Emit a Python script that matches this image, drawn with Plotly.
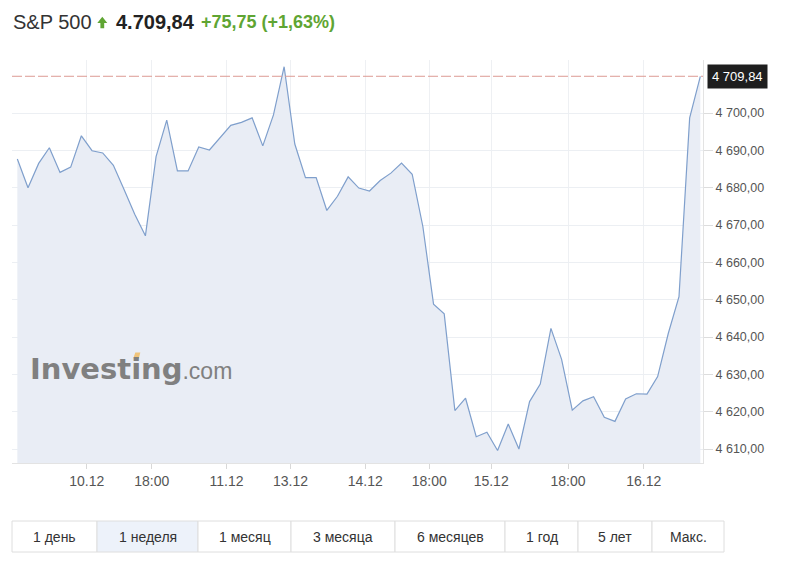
import plotly.graph_objects as go

# ---- data ----
prices = [4687.7, 4680.0, 4686.5, 4690.7, 4684.1, 4685.5, 4693.9, 4689.9, 4689.3, 4686.0,
          4679.5, 4672.9, 4667.1, 4688.3, 4698.1, 4684.5, 4684.5, 4690.9, 4690.1, 4693.5,
          4696.7, 4697.5, 4698.7, 4691.2, 4699.5, 4712.4, 4691.7, 4682.7, 4682.7, 4673.9,
          4677.7, 4682.9, 4679.9, 4679.1, 4681.9, 4683.9, 4686.6, 4683.6, 4669.6, 4648.8,
          4646.2, 4620.3, 4623.6, 4613.3, 4614.5, 4609.6, 4616.7, 4610.0, 4622.7, 4627.4,
          4642.3, 4634.0, 4620.4, 4622.9, 4624.0, 4618.5, 4617.4, 4623.4, 4624.8, 4624.7,
          4629.4, 4641.0, 4650.8, 4698.7, 4709.84]
steps = list(range(len(prices)))
x_tick_vals = [6.5, 12.6, 19.6, 25.6, 32.6, 38.6, 44.4, 51.6, 58.7]
x_tick_text = ["10.12", "18:00", "11.12", "13.12", "14.12", "18:00", "15.12", "18:00", "16.12"]
y_tick_vals = [4610, 4620, 4630, 4640, 4650, 4660, 4670, 4680, 4690, 4700]
y_tick_text = ["4 610,00", "4 620,00", "4 630,00", "4 640,00", "4 650,00",
               "4 660,00", "4 670,00", "4 680,00", "4 690,00", "4 700,00"]
last_price = 4709.84
last_label = "4 709,84"
title_name = "S&P 500"
title_price = "4.709,84"
title_change = "+75,75 (+1,63%)"
buttons = ["1 день", "1 неделя", "1 месяц", "3 месяца", "6 месяцев", "1 год", "5 лет", "Макс."]
active_button = "1 неделя"

# ---- layout geometry (reference pixels) ----
OFF = 8  # page body margin
W, H = 789 - OFF, 564 - OFF
L, R, T, B = 12, 703, 60, 463
btn_edges = [12, 97, 198, 291, 395, 505, 578, 652, 724]
btn_top, btn_bot = 521, 552


def xp(px):
    return (px - L) / (R - L)


def yp(py):
    return (B - py) / (B - T)


FONT = "Liberation Sans, Arial, sans-serif"

fig = go.Figure()
fig.add_trace(go.Scatter(
    x=steps, y=prices, mode="lines",
    line=dict(color="#7f9fcc", width=1.2),
    fill="tozeroy", fillcolor="#e9edf5",
    hoverinfo="skip", showlegend=False,
))

shapes = []
shapes.append(dict(type="line", xref="paper", yref="y", x0=0, x1=1,
                   y0=last_price, y1=last_price,
                   line=dict(color="#dc9a93", width=1, dash="10px,3px")))
ax0, ax1 = 97.3, 107.3
path = (f"M {xp(ax0)},{yp(23)} L {xp((ax0+ax1)/2)},{yp(16.8)} L {xp(ax1)},{yp(23)} "
        f"L {xp(104.2)},{yp(23)} L {xp(104.2)},{yp(28.3)} L {xp(100.4)},{yp(28.3)} "
        f"L {xp(100.4)},{yp(23)} Z")
shapes.append(dict(type="path", xref="paper", yref="paper", path=path,
                   fillcolor="#5fa533", line=dict(width=0)))
for i, name in enumerate(buttons):
    shapes.append(dict(type="rect", xref="paper", yref="paper",
                       x0=xp(btn_edges[i]), x1=xp(btn_edges[i+1]),
                       y0=yp(btn_bot), y1=yp(btn_top),
                       fillcolor="#edf2fa" if name == active_button else "white",
                       line=dict(color="#dedede", width=1)))

annotations = []
annotations.append(dict(xref="paper", yref="paper", x=xp(11), y=yp(22), xanchor="left", yanchor="middle",
                        text=title_name, showarrow=False,
                        font=dict(family=FONT, size=20, color="#333333")))
annotations.append(dict(xref="paper", yref="paper", x=xp(114), y=yp(22), xanchor="left", yanchor="middle",
                        text=f"<b>{title_price}</b>", showarrow=False,
                        font=dict(family=FONT, size=20, color="#222222")))
annotations.append(dict(xref="paper", yref="paper", x=xp(199), y=yp(22), xanchor="left", yanchor="middle",
                        text=f"<b>{title_change}</b>", showarrow=False,
                        font=dict(family=FONT, size=18, color="#5fa533")))
annotations.append(dict(xref="paper", yref="paper", x=xp(28), y=yp(369), xanchor="left", yanchor="middle",
                        text=("<b>Investing</b><span style='font-size:23px;font-weight:normal;"
                              "font-family:Liberation Sans, Arial, sans-serif'>.com</span>"),
                        showarrow=False,
                        font=dict(family="DejaVu Sans, sans-serif", size=29, color="#808080")))
annotations.append(dict(xref="paper", yref="y", x=xp(707), y=last_price, xanchor="left", yanchor="middle",
                        text=last_label, showarrow=False, bgcolor="#1e1e1e", borderpad=4,
                        font=dict(family=FONT, size=13, color="white")))
for i, name in enumerate(buttons):
    annotations.append(dict(xref="paper", yref="paper",
                            x=xp((btn_edges[i] + btn_edges[i+1]) / 2), y=yp((btn_top + btn_bot) / 2),
                            xanchor="center", yanchor="middle", text=name, showarrow=False,
                            font=dict(family=FONT, size=14, color="#333333")))

# orange accent over the dot of the watermark "i" (drawn above annotations via a second annotation-free layer)
shapes.append(dict(type="path", xref="paper", yref="paper", layer="above",
                   path=f"M {xp(133.3)},{yp(358.5)} L {xp(135.3)},{yp(352.5)} L {xp(140.3)},{yp(352.5)} L {xp(138.8)},{yp(358.5)} Z",
                   fillcolor="#f0c47a", line=dict(width=0)))

fig.update_layout(
    width=W, height=H,
    margin=dict(l=L - OFF, r=W - (R - OFF), t=T - OFF, b=H - (B - OFF), pad=0),
    paper_bgcolor="white", plot_bgcolor="white",
    shapes=shapes, annotations=annotations,
    xaxis=dict(range=[-0.5, 64.25], tickmode="array", tickvals=x_tick_vals, ticktext=x_tick_text,
               showgrid=True, gridcolor="#eef0f3", gridwidth=1,
               ticks="outside", ticklen=5, tickcolor="#d8d8d8",
               showline=True, linecolor="#e3e3e3", linewidth=1,
               tickfont=dict(family=FONT, size=14, color="#555555"), zeroline=False),
    yaxis=dict(range=[4606.25, 4714.2], side="right", tickmode="array",
               tickvals=y_tick_vals, ticktext=y_tick_text,
               showgrid=True, gridcolor="#eceff3", gridwidth=1,
               ticks="outside", ticklen=9, tickcolor="#dddddd",
               showline=True, linecolor="#e3e3e3", linewidth=1,
               tickfont=dict(family=FONT, size=12.5, color="#555555"), zeroline=False),
    font=dict(family=FONT),
)

fig.write_html("out.html")
